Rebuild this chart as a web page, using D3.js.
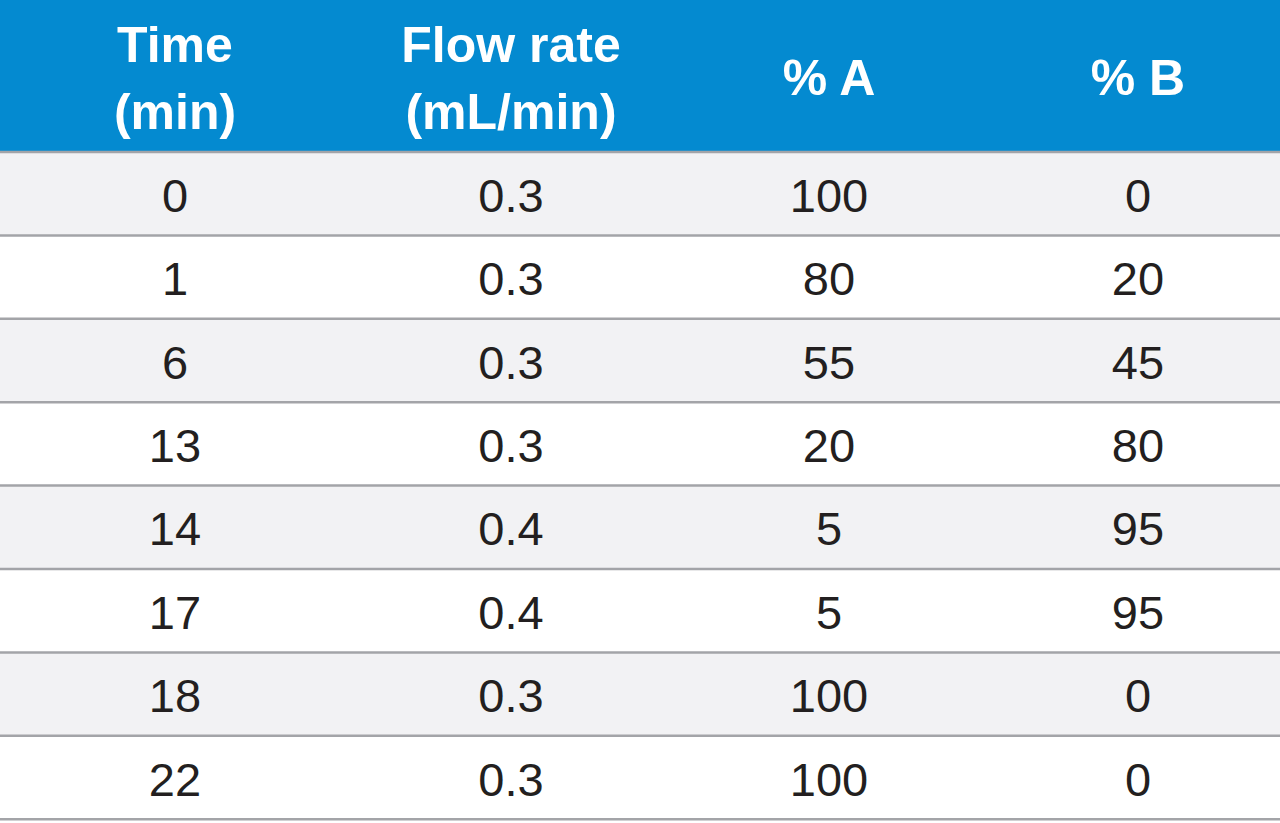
<!DOCTYPE html>
<html>
	<head>
		<meta charset="utf-8">
		<title>Gradient table</title>
		<style>
			html, body {
				margin: 0;
				padding: 0;
				background: #fff;
			}
			svg {
				display: block;
				font-family: "Liberation Sans", Arial, sans-serif;
			}
		</style>
	</head>
	<body>

		<svg id="table" width="1280" height="823"></svg>

		<script src="https://cdn.jsdelivr.net/npm/d3@7/dist/d3.min.js" charset="utf-8"></script>
		<script type="text/javascript">

			// table contents
			var headers = [['Time', '(min)'], ['Flow rate', '(mL/min)'], ['% A'], ['% B']];
			var times = ['0', '1', '6', '13', '14', '17', '18', '22'];
			var flowRates = ['0.3', '0.3', '0.3', '0.3', '0.4', '0.4', '0.3', '0.3'];
			var percentA = ['100', '80', '55', '20', '5', '5', '100', '100'];
			var percentB = ['0', '20', '45', '80', '95', '95', '0', '0'];

			var columns = [times, flowRates, percentA, percentB];

			// layout
			var width = 1280;
			var headerH = 152;
			var rowH = 83.4;
			var colCenters = [175, 511, 829, 1138];

			var svg = d3.select('#table');

			var x = d3.scaleOrdinal()
				.domain(d3.range(columns.length))
				.range(colCenters);

			var y = d3.scaleBand()
				.domain(d3.range(times.length))
				.range([headerH, headerH + rowH * times.length])
				.padding(0);

			// header
			svg.append('rect')
				.attr('x', 0)
				.attr('y', 0)
				.attr('width', width)
				.attr('height', headerH)
				.attr('fill', '#048ad0');

			var head = svg.selectAll('text.head')
				.data(headers)
				.enter()
				.append('text')
				.attr('class', 'head')
				.attr('text-anchor', 'middle')
				.attr('fill', '#fff')
				.attr('font-weight', 'bold')
				.attr('font-size', '50px')
				.attr('x', function(d, i) { return x(i); })
				.attr('y', function(d) { return d.length > 1 ? 62 : 95; });

			head.selectAll('tspan')
				.data(function(d, i) { return d.map(function(t) { return {t: t, i: i}; }); })
				.enter()
				.append('tspan')
				.attr('x', function(d) { return x(d.i); })
				.attr('dy', function(d, j) { return j === 0 ? 0 : 67; })
				.text(function(d) { return d.t; });

			// row backgrounds
			svg.selectAll('rect.row')
				.data(times)
				.enter()
				.append('rect')
				.attr('class', 'row')
				.attr('x', 0)
				.attr('y', function(d, i) { return y(i); })
				.attr('width', width)
				.attr('height', y.bandwidth())
				.attr('fill', function(d, i) { return i % 2 === 0 ? '#f2f2f4' : '#ffffff'; });

			// separator lines
			svg.selectAll('line.sep')
				.data(d3.range(times.length + 1))
				.enter()
				.append('line')
				.attr('class', 'sep')
				.attr('x1', 0)
				.attr('x2', width)
				.attr('y1', function(i) { return headerH + i * rowH; })
				.attr('y2', function(i) { return headerH + i * rowH; })
				.attr('stroke', '#a3a4a8')
				.attr('stroke-width', 2.5);

			// cells
			columns.forEach(function(col, c) {
				svg.selectAll('text.c' + c)
					.data(col)
					.enter()
					.append('text')
					.attr('class', 'c' + c)
					.attr('text-anchor', 'middle')
					.attr('fill', '#231f20')
					.attr('font-size', '47px')
					.attr('x', x(c))
					.attr('y', function(d, i) { return y(i) + y.bandwidth() / 2 + 18; })
					.text(function(d) { return d; });
			});

		</script>
	</body>
</html>
